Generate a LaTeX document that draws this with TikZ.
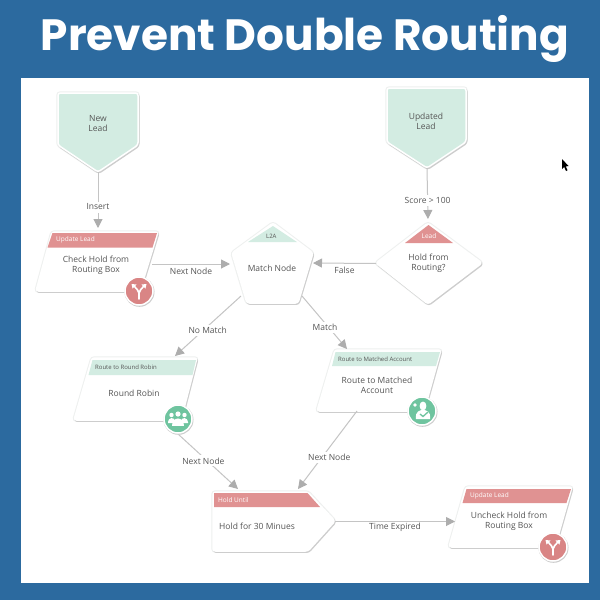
\documentclass[tikz,border=0pt]{standalone}
\usepackage{fontspec}
\setmainfont{Open Sans}
\newfontfamily\titlefont{Poppins}
\usetikzlibrary{arrows.meta,calc}
\definecolor{bluebg}{HTML}{2C6A9F}
\definecolor{mintfill}{HTML}{D3ECE2}
\definecolor{redhead}{HTML}{E09292}
\definecolor{iconred}{HTML}{D98585}
\definecolor{icongreen}{HTML}{6FC49F}
\definecolor{linegray}{HTML}{C4C4C4}
\definecolor{tipgray}{HTML}{ADADAD}
\definecolor{txt}{HTML}{555555}
\definecolor{shadowgray}{HTML}{CDCDCD}
\definecolor{glowgray}{HTML}{EEF0EF}
\tikzset{
  x=1pt,y=-1pt,
  bbox/.style={inner sep=0pt,outer sep=0pt,draw=none},
  shapebody/.style={fill=white,draw=white,line width=1.5pt,line join=round,rounded corners=2.5pt,
    preaction={draw=glowgray,line width=3.5pt},
    preaction={draw=shadowgray,fill=shadowgray,line width=1.5pt,transform canvas={shift={(.8pt,-1.2pt)}}}},
  mintbody/.style={shapebody,fill=mintfill},
  conn/.style={draw=linegray,line width=1pt,-{Triangle[length=9pt,width=9pt,color=tipgray]}},
  edgelabel/.style={fill=white,text=txt,font=\fontsize{8.5}{9}\selectfont,inner sep=0pt,outer sep=0pt,minimum height=11pt,inner xsep=5pt},
  bodytext/.style={text=txt,font=\fontsize{8.5}{10}\selectfont,align=center,inner sep=0pt},
  headtext/.style={text=white,font=\fontsize{6.5}{7}\selectfont,inner sep=0pt,anchor=west},
  headdark/.style={text=txt,font=\fontsize{6}{7}\selectfont,inner sep=0pt,anchor=west},
  iconcircle/.style={line width=1.5pt,draw=white,preaction={draw=shadowgray,line width=2pt,transform canvas={shift={(.5pt,-.8pt)}}}},
}
\newcommand{\forkicon}[1]{%
  \begin{scope}[shift={(#1)},white,line width=1.6pt,line cap=round]
    \draw (0,8) -- (0,2) .. controls (0,-1) and (-3,-2) .. (-5,-5);
    \draw (0,2) .. controls (0,-1) and (3,-2) .. (5,-5);
    \fill (-7.5,-7) -- (-2.5,-6.5) -- (-6.5,-2.5) -- cycle;
    \fill (7.5,-7) -- (2.5,-6.5) -- (6.5,-2.5) -- cycle;
  \end{scope}}
\begin{document}
\begin{tikzpicture}
\useasboundingbox (0,0) rectangle (600,600);
\fill[bluebg] (0,0) rectangle (600,600);
\fill[white] (21,78) rectangle (589,583);
\node[text=white,font=\titlefont\fontsize{43.8}{48}\bfseries\selectfont,inner sep=0pt] (title) at (305,39) {Prevent Double Routing};

% shapes
\draw[mintbody] (58,93) -- (138,93) -- (138,145) -- (98,172) -- (58,145) -- cycle;
\draw[mintbody] (387,88) -- (466,88) -- (466,142) -- (427,168) -- (387,142) -- cycle;
% Update Lead
\draw[shapebody] (52,232) -- (158,232) -- (140,291) -- (36,291) -- cycle;
\fill[redhead] (52.5,233) -- (157,233) -- (152.5,247.5) -- (47.5,247.5) -- cycle;
% Match Node
\draw[shapebody] (273,223) -- (313,253) -- (298,303) -- (247,303) -- (232,253) -- cycle;
\fill[mintfill] (273,226) -- (297,242) -- (248,242) -- cycle;
% Hold from routing
\draw[shapebody] (428,223) -- (482,263) -- (428,304) -- (376,263) -- cycle;
\fill[redhead] (428.5,225) -- (453,243) -- (405,243) -- cycle;
% Round Robin
\draw[shapebody] (92,358) -- (197,358) -- (181,420) -- (74,420) -- cycle;
\fill[mintfill] (92.5,360) -- (196,360) -- (192.5,375) -- (88.5,375) -- cycle;
% Route to matched
\draw[shapebody] (335,350) -- (441,350) -- (424,411) -- (317,411) -- cycle;
\fill[mintfill] (335.5,352) -- (440,352) -- (436,366) -- (332,366) -- cycle;
% Hold until
\draw[shapebody] (213,492) -- (308,492) -- (335,521) -- (308,551) -- (213,551) -- cycle;
\fill[redhead] (214,493) -- (307.5,493) -- (320,507) -- (214,507) -- cycle;
% Uncheck
\draw[shapebody] (466,487) -- (572,487) -- (555,547) -- (449,547) -- cycle;
\fill[redhead] (466.5,489) -- (571,489) -- (566.5,503) -- (462.5,503) -- cycle;

% invisible extents of the shapes, used by the connectors
\node[bbox,minimum width=80pt,minimum height=79pt] (newlead) at (98,132.5) {};
\node[bbox,minimum width=79pt,minimum height=80pt] (updatedlead) at (427,128) {};
\node[bbox,minimum width=122pt,minimum height=59pt] (updatelead) at (97,261.5) {};
\node[bbox,minimum width=81pt,minimum height=80pt] (matchnode) at (272.5,263) {};
\node[bbox,minimum width=106pt,minimum height=81pt] (holdrouting) at (429,263.5) {};
\node[bbox,minimum width=123pt,minimum height=62pt] (roundrobin) at (135.5,389) {};
\node[bbox,minimum width=124pt,minimum height=61pt] (matched) at (379,380.5) {};
\node[bbox,minimum width=122pt,minimum height=59pt] (holduntil) at (274,521.5) {};
\node[bbox,minimum width=123pt,minimum height=60pt] (uncheck) at (510.5,517) {};

% connectors (xshift/yshift are canvas shifts: positive yshift is upward)
\draw[conn] (newlead.south) -- ([yshift=4pt]updatelead.north -| newlead.south) node[edgelabel,pos=.625] (l1) {Insert};
\draw[conn] (updatedlead.south) -- ([xshift=-1pt,yshift=4pt]holdrouting.north) node[edgelabel,pos=.63] (l2) {Score > 100};
\draw[conn] ([xshift=-6pt,yshift=-2.5pt]updatelead.east) -- ([xshift=-2pt,yshift=-1pt]matchnode.west) coordinate[pos=.5] (c3);
\node[edgelabel] (l3) at ($(c3)+(0,7)$) {Next Node};
\draw[conn] (holdrouting.west) -- (matchnode.east) coordinate[pos=.5] (c4);
\node[edgelabel] (l4) at ($(c4)+(0,7)$) {False};
\draw[conn] ([shift={(9,-7)}]matchnode.south west) -- ([xshift=-22pt,yshift=2pt]roundrobin.north east) node[edgelabel,pos=.58,xshift=5pt] (l5) {No Match};
\draw[conn] ([shift={(-11,-7)}]matchnode.south east) -- ([xshift=-32pt,yshift=1pt]matched.north) node[edgelabel,pos=.6,xshift=-4pt] (l6) {Match};
\draw[conn] ([shift={(-19,14)}]roundrobin.south east) -- ([xshift=-36pt,yshift=3pt]holduntil.north) node[edgelabel,pos=.49,xshift=-4pt] (l7) {Next Node};
\draw[conn] ([shift={(-22,0)}]matched.south) -- ([xshift=24pt,yshift=3pt]holduntil.north) node[edgelabel,pos=.59,xshift=7pt] (l8) {Next Node};
\draw[conn] (holduntil.east) -- ([xshift=6pt]uncheck.west |- holduntil.east) coordinate[pos=.5] (c9);
\node[edgelabel] (l9) at ($(c9)+(0,6)$) {Time Expired};

% texts
\node[bodytext] (tnew) at (98,124) {New\\Lead};
\node[bodytext] (tupd) at (426,121) {Updated\\Lead};
\node[headtext] (h1) at (56,240) {Update Lead};
\node[bodytext] (t1) at (96,265) {Check Hold from\\Routing Box};
\node[headdark] (h2) at (266,236.5) {L2A};
\node[bodytext] (t2) at (272,268.5) {Match Node};
\node[headtext,anchor=center] (h3) at (429,236.5) {Lead};
\node[bodytext] (t3) at (428.5,263) {Hold from\\Routing?};
\node[headdark] (h4) at (95,367.5) {Route to Round Robin};
\node[bodytext] (t4) at (134,393.5) {Round Robin};
\node[headdark] (h5) at (338,359) {Route to Matched Account};
\node[bodytext] (t5) at (377,385) {Route to Matched\\Account};
\node[headtext] (h6) at (218,500) {Hold Until};
\node[bodytext,anchor=west] (t6) at (219,526) {Hold for 30 Minues};
\node[headtext] (h7) at (470,495.5) {Update Lead};
\node[bodytext] (t7) at (509,521) {Uncheck Hold from\\Routing Box};

% icons
\fill[iconred,iconcircle] (139,291) circle (14);
\forkicon{139,291}
\fill[iconred,iconcircle] (553,547) circle (14);
\forkicon{553,547}
\fill[icongreen,iconcircle] (178,419) circle (14);
\begin{scope}[shift={(178,419)},white]
  \fill (-6.5,-4) circle (2.2); \fill (6.5,-4) circle (2.2); \fill (0,-5) circle (2.6);
  \fill (-10,3) .. controls (-10,-2) and (-3,-2) .. (-3,2) -- (-3,4) -- (-10,4) -- cycle;
  \fill (10,3) .. controls (10,-2) and (3,-2) .. (3,2) -- (3,4) -- (10,4) -- cycle;
  \fill (-6,7) .. controls (-6,-3) and (6,-3) .. (6,7) -- cycle;
\end{scope}
\fill[icongreen,iconcircle] (422,411) circle (14);
\begin{scope}[shift={(422,411)},white]
  \fill (1,-5) ellipse (3.4 and 4.5);
  \fill (-6,8) .. controls (-7,0) and (-2,-1) .. (1,-1) .. controls (4,-1) and (9,0) .. (8,8) -- cycle;
  \fill (-7,-6) circle (1.8);
  \draw[icongreen,line width=1.3pt] (-2,3) -- (1,5.5) -- (6,1);
\end{scope}
% cursor
\fill[black] (562,159) -- (562,169) -- (564.2,167) -- (566,171) -- (567.5,170.3) -- (565.8,166.5) -- (568.5,166) -- cycle;
\end{tikzpicture}
\end{document}
